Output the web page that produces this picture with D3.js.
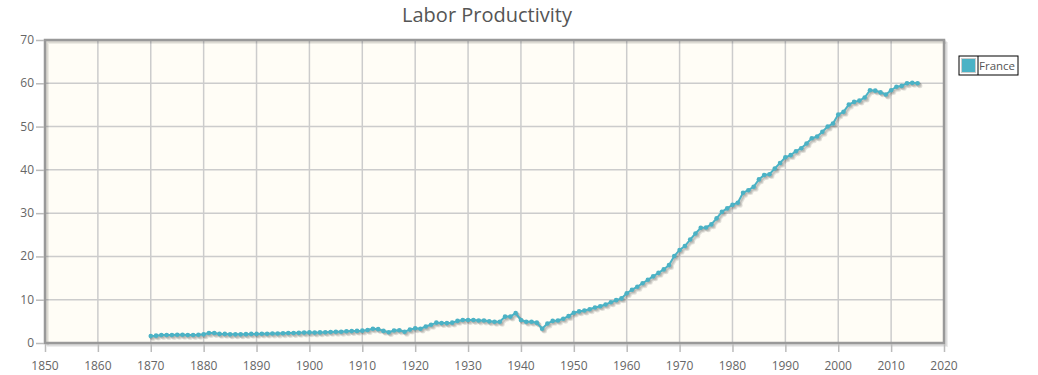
<!DOCTYPE html>
<meta charset="utf-8">
<script src="https://d3js.org/d3.v7.min.js"></script>
<title>Labor Productivity</title>
<style>
body { margin: 0; background: #fff; }
svg { font-family: "Open Sans", "DejaVu Sans", sans-serif; }
</style>
<svg width="1038" height="375"></svg>
<script>

var years = d3.range(1870, 2016);
var france = [
  1.6, 1.7, 1.85, 1.85, 1.85, 1.9, 1.9, 1.85, 1.85, 1.9,
  2.0, 2.3, 2.3, 2.1, 2.1, 2.0, 2.0, 2.0, 2.05, 2.1,
  2.1, 2.15, 2.15, 2.2, 2.2, 2.25, 2.3, 2.3, 2.35, 2.4,
  2.45, 2.4, 2.45, 2.5, 2.55, 2.6, 2.6, 2.7, 2.75, 2.8,
  2.85, 3.0, 3.3, 3.2, 2.8, 2.5, 2.9, 2.95, 2.6, 3.1,
  3.4, 3.3, 3.8, 4.2, 4.7, 4.6, 4.6, 4.7, 5.1, 5.3,
  5.3, 5.3, 5.2, 5.2, 5.0, 4.9, 4.9, 6.1, 6.1, 6.9,
  5.3, 4.9, 4.9, 4.7, 3.3, 4.5, 5.1, 5.2, 5.6, 6.2,
  7.0, 7.3, 7.5, 7.8, 8.2, 8.5, 8.9, 9.4, 9.9, 10.3,
  11.5, 12.3, 13.0, 13.8, 14.6, 15.4, 16.2, 17.0, 18.0, 20.1,
  21.5, 22.4, 23.9, 25.3, 26.6, 26.7, 27.4, 28.8, 30.3, 31.1,
  31.9, 32.4, 34.7, 35.3, 36.1, 37.8, 38.8, 39.0, 40.3, 41.6,
  42.9, 43.4, 44.3, 45.0, 46.1, 47.3, 47.7, 48.8, 50.0, 50.7,
  52.8, 53.4, 55.1, 55.7, 56.0, 56.7, 58.4, 58.3, 57.9, 57.4,
  58.4, 59.2, 59.4, 60.0, 60.1, 60.0
];
var xTicks = d3.range(1850, 2021, 10);
var yTicks = d3.range(0, 71, 10);

var svg = d3.select("svg");
var plotL = 45, plotR = 944, plotT = 40, plotB = 343;

var x = d3.scaleLinear().domain([1850, 2020]).range([plotL, plotR]);
var y = d3.scaleLinear().domain([0, 70]).range([plotB, plotT]);

var data = years.map((yr, i) => [yr, france[i]]);

// plot background
svg.append("rect")
    .attr("x", plotL).attr("y", plotT)
    .attr("width", plotR - plotL).attr("height", plotB - plotT)
    .attr("fill", "#fffdf6");

// grid
svg.append("g").selectAll("line").data(xTicks.slice(1, -1)).join("line")
    .attr("x1", d => x(d)).attr("x2", d => x(d))
    .attr("y1", plotT).attr("y2", plotB)
    .attr("stroke", "#cccccc").attr("stroke-width", 1.5);
svg.append("g").selectAll("line").data(yTicks.slice(1, -1)).join("line")
    .attr("x1", plotL).attr("x2", plotR)
    .attr("y1", d => y(d)).attr("y2", d => y(d))
    .attr("stroke", "#cccccc").attr("stroke-width", 1.5);

// border shadow
[3, 2, 1].forEach(function(o) {
  svg.append("rect")
      .attr("x", plotL + o).attr("y", plotT + o)
      .attr("width", plotR - plotL).attr("height", plotB - plotT)
      .attr("fill", "none").attr("stroke", "#000")
      .attr("stroke-opacity", 0.07).attr("stroke-width", 2);
});
svg.append("rect")
    .attr("x", plotL).attr("y", plotT)
    .attr("width", plotR - plotL).attr("height", plotB - plotT)
    .attr("fill", "none").attr("stroke", "#999999").attr("stroke-width", 2.5);

// ticks
svg.append("g").selectAll("line").data(yTicks).join("line")
    .attr("x1", plotL - 9).attr("x2", plotL - 1)
    .attr("y1", d => y(d) + 0.5).attr("y2", d => y(d) + 0.5)
    .attr("stroke", "#bbbbbb").attr("stroke-width", 1.5);
svg.append("g").selectAll("line").data(xTicks).join("line")
    .attr("x1", d => x(d) + 0.5).attr("x2", d => x(d) + 0.5)
    .attr("y1", plotB + 1).attr("y2", plotB + 9)
    .attr("stroke", "#bbbbbb").attr("stroke-width", 1.5);

svg.append("g").selectAll("text").data(yTicks).join("text")
    .attr("x", plotL - 11).attr("y", d => y(d) + 4)
    .attr("text-anchor", "end")
    .attr("fill", "#666").attr("font-size", 12)
    .text(d => d);
svg.append("g").selectAll("text").data(xTicks).join("text")
    .attr("x", d => x(d)).attr("y", 370)
    .attr("text-anchor", "middle")
    .attr("fill", "#666").attr("font-size", 12)
    .text(d => d);

// title
svg.append("text")
    .attr("x", 487).attr("y", 22)
    .attr("text-anchor", "middle")
    .attr("fill", "#555").attr("font-size", 20)
    .attr("font-weight", 500)
    .text("Labor Productivity");

// series
var line = d3.line().x(d => x(d[0])).y(d => y(d[1]));
var color = "#4bb2c5";

[3, 2, 1].forEach(function(o) {
  var g = svg.append("g").attr("transform", `translate(${o * 0.8},${o * 0.8})`)
      .attr("opacity", 0.1);
  g.append("path").datum(data).attr("d", line)
      .attr("fill", "none").attr("stroke", "#000").attr("stroke-width", 2.5);
  g.selectAll("circle").data(data).join("circle")
      .attr("cx", d => x(d[0])).attr("cy", d => y(d[1])).attr("r", 2.5)
      .attr("fill", "#000");
});

svg.append("path").datum(data).attr("d", line)
    .attr("fill", "none").attr("stroke", color).attr("stroke-width", 2);
svg.append("g").selectAll("circle").data(data).join("circle")
    .attr("cx", d => x(d[0])).attr("cy", d => y(d[1])).attr("r", 2.3)
    .attr("fill", color);

// legend
var lg = svg.append("g").attr("transform", "translate(959,56)");
lg.append("rect").attr("x", 0).attr("y", 0).attr("width", 59).attr("height", 19)
    .attr("fill", "#fff").attr("stroke", "#000").attr("stroke-width", 1);
lg.append("line").attr("x1", 19).attr("x2", 19).attr("y1", 0).attr("y2", 19)
    .attr("stroke", "#000");
lg.append("rect").attr("x", 2.5).attr("y", 2.5).attr("width", 14).attr("height", 14)
    .attr("fill", color).attr("stroke", "#ccc").attr("stroke-width", 1);
lg.append("text").attr("x", 20).attr("y", 14)
    .attr("fill", "#555").attr("font-size", 11.5)
    .text("France");

</script>
